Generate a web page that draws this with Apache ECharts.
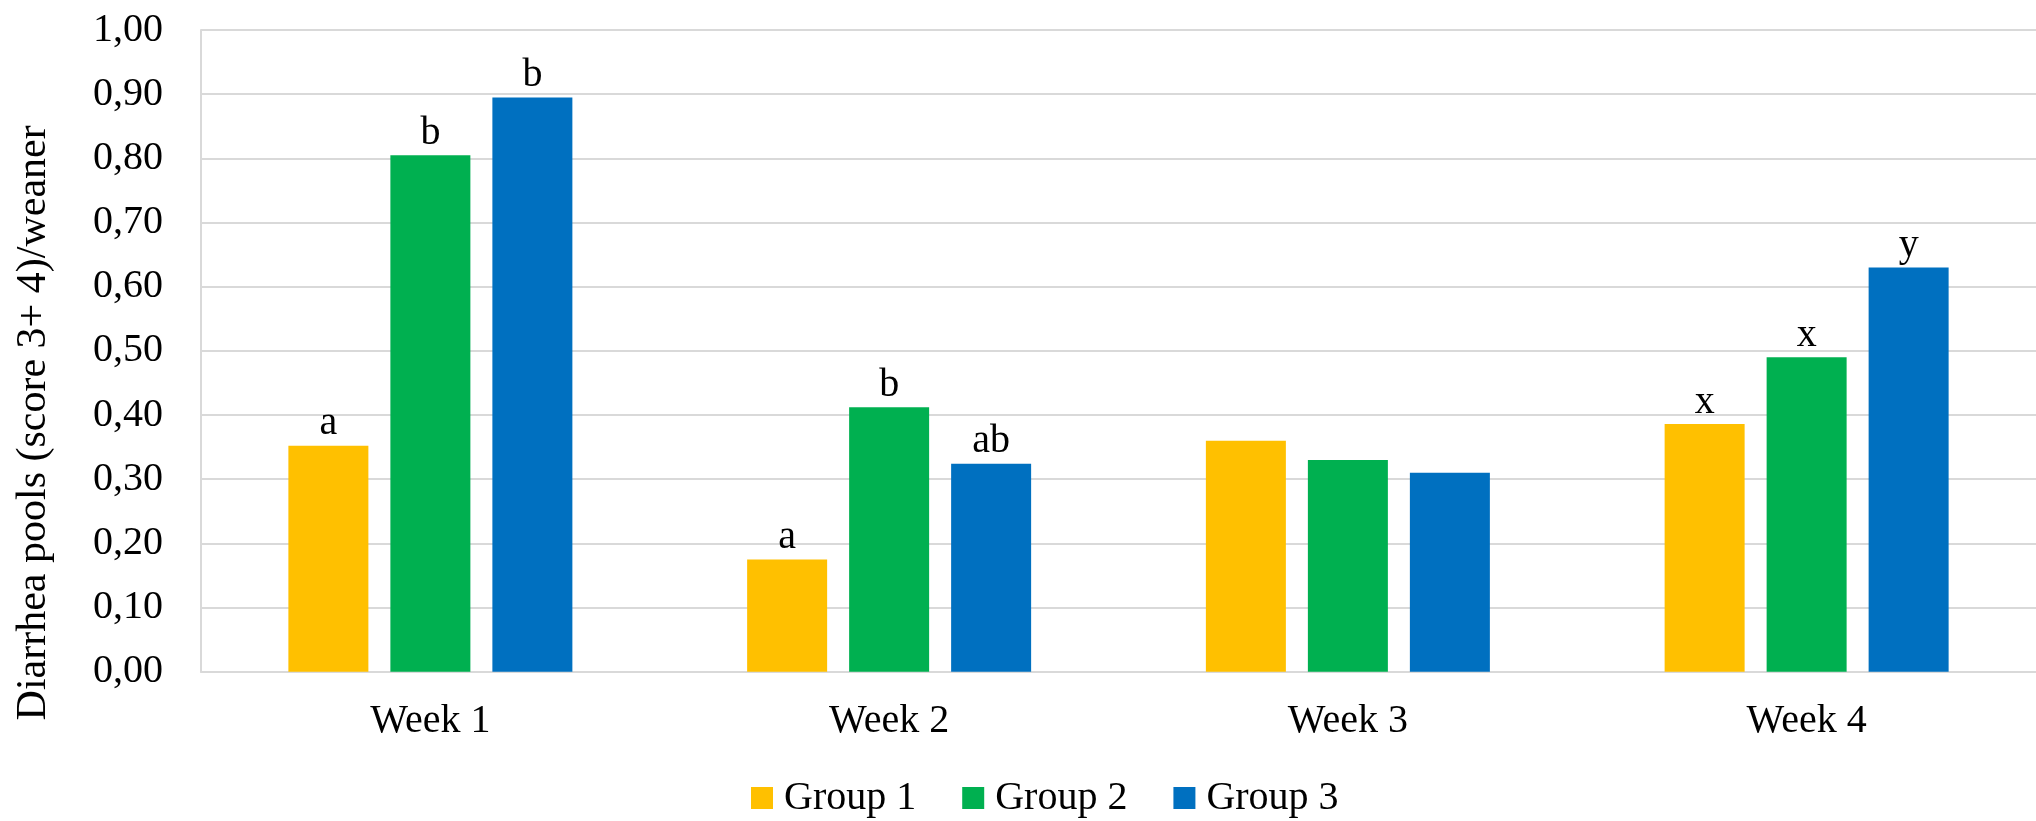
<!DOCTYPE html>
<html>
<head>
<meta charset="utf-8">
<script src="https://cdn.jsdelivr.net/npm/echarts@6/dist/echarts.min.js"></script>
<style>
  html, body { margin: 0; padding: 0; background: #ffffff; }
  #chart { width: 2036px; height: 821px; }
</style>
</head>
<body>
<div id="chart"></div>
<script>
// Weekly diarrhea pools per weaner, three groups
const categories = ['Week 1', 'Week 2', 'Week 3', 'Week 4'];
const seriesNames = ['Group 1', 'Group 2', 'Group 3'];
const group1 = [0.352, 0.175, 0.360, 0.386];
const group2 = [0.805, 0.412, 0.330, 0.490];
const group3 = [0.895, 0.324, 0.310, 0.630];
// significance letters shown above bars (empty = none)
const letters1 = ['a', 'a', '', 'x'];
const letters2 = ['b', 'b', '', 'x'];
const letters3 = ['b', 'ab', '', 'y'];
const yTicks = { min: 0, max: 1, interval: 0.1 };

const colors = ['#FFC000', '#00B050', '#0070C0'];
const FONT = "'Liberation Serif', 'Times New Roman', serif";

function makeSeries(name, values, letters, color) {
  return {
    name: name,
    type: 'bar',
    barWidth: 80,
    barGap: '27.5%',
    itemStyle: { color: color },
    label: {
      show: true,
      position: 'top',
      distance: 2,
      color: '#000',
      fontFamily: FONT,
      fontSize: 40,
      formatter: p => letters[p.dataIndex]
    },
    data: values
  };
}

const chart = echarts.init(document.getElementById('chart'));
chart.setOption({
  animation: false,
  backgroundColor: '#ffffff',
  textStyle: { fontFamily: FONT },
  grid: { left: 201, top: 30, width: 1842, height: 641.7 },
  legend: {
    data: seriesNames,
    left: 746,
    top: 773,
    itemWidth: 22,
    itemHeight: 22,
    itemGap: 46,
    icon: 'rect',
    textStyle: { fontFamily: FONT, fontSize: 40, color: '#000', padding: [0, 0, 0, 6] }
  },
  xAxis: {
    type: 'category',
    data: categories,
    axisLine: { show: true, lineStyle: { color: '#D9D9D9', width: 2 } },
    axisTick: { show: false },
    axisLabel: { color: '#000', fontFamily: FONT, fontSize: 40, margin: 30 }
  },
  yAxis: {
    type: 'value',
    min: yTicks.min,
    max: yTicks.max,
    interval: yTicks.interval,
    name: 'Diarrhea pools (score 3+ 4)/weaner',
    nameLocation: 'middle',
    nameGap: 146,
    nameRotate: 90,
    nameTextStyle: { color: '#000', fontFamily: FONT, fontSize: 42, padding: [0, 144, 0, 0] },
    axisLine: { show: true, lineStyle: { color: '#D9D9D9', width: 2 } },
    axisTick: { show: false },
    splitLine: { show: true, lineStyle: { color: '#D9D9D9', width: 2 } },
    axisLabel: {
      color: '#000', fontFamily: FONT, fontSize: 40, margin: 38,
      formatter: v => v.toFixed(2).replace('.', ',')
    }
  },
  series: [
    makeSeries(seriesNames[0], group1, letters1, colors[0]),
    makeSeries(seriesNames[1], group2, letters2, colors[1]),
    makeSeries(seriesNames[2], group3, letters3, colors[2])
  ]
});
</script>
</body>
</html>
